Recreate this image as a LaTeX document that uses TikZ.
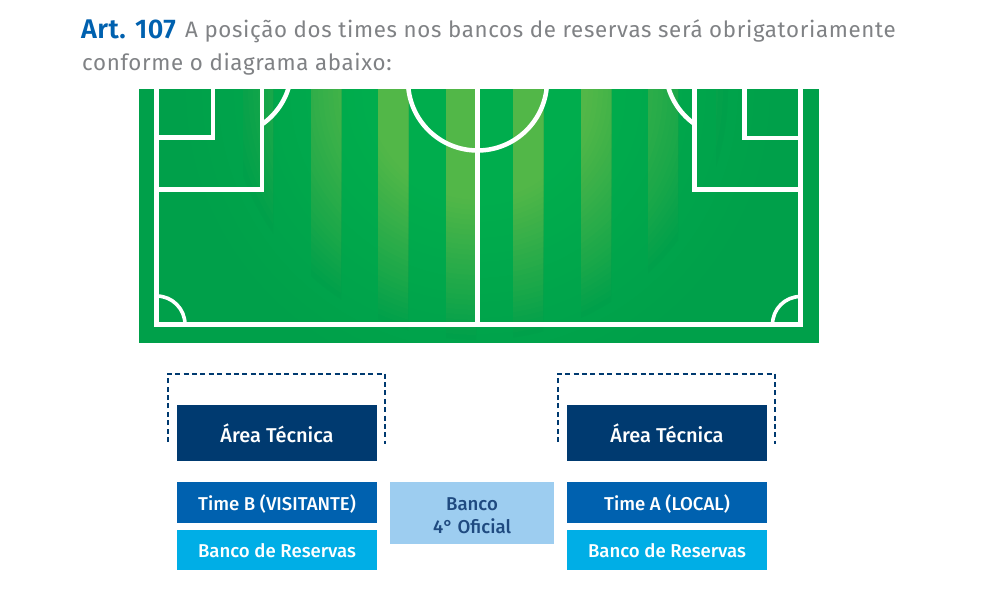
\documentclass[tikz,border=0pt]{standalone}
\usepackage{fontspec}
\setmainfont{Fira Sans}
\newfontfamily\titlefont[LetterSpace=3]{Fira Sans}
\newfontfamily\artfont[LetterSpace=1.5]{Fira Sans SemiBold}
\newfontfamily\boxfont{Fira Sans Medium}
\definecolor{darkblue}{HTML}{003A70}
\definecolor{midblue}{HTML}{0061AF}
\definecolor{cyanblue}{HTML}{00AEE6}
\definecolor{paleblue}{HTML}{9DCDF0}
\definecolor{paletext}{HTML}{1F4A80}
\definecolor{titlegray}{HTML}{808285}
\definecolor{fieldedge}{HTML}{00A04A}
\definecolor{fieldmid}{HTML}{00AE4D}
\definecolor{stripelight}{HTML}{52B748}
\tikzset{
  boxnode/.style={inner sep=0pt,text centered,font=\boxfont\fontsize{18.6}{23}\selectfont,text=white},
  pitchline/.style={draw=white,line width=4.5pt},
  cornerline/.style={draw=white,line width=3.6pt},
  dashline/.style={draw=darkblue,line width=2pt,dash pattern=on 5pt off 3.4pt},
  titletext/.style={anchor=base west,inner sep=0pt,text=titlegray,font=\titlefont\fontsize{22.3}{25}\selectfont}
}
\begin{document}
\begin{tikzpicture}[x=1pt,y=-1pt]
\useasboundingbox (0,0) rectangle (984,599);
\fill[white] (0,0) rectangle (984,599);
% field with soft glow
\fill[fieldedge] (130,80) rectangle (830,350);
\begin{scope}
  \clip (130,80) rectangle (830,350);
  \foreach \i in {0,...,24}{
    \pgfmathsetmacro{\r}{300-\i*8}
    \pgfmathsetmacro{\m}{\i*4}
    \fill[fieldmid!\m!fieldedge] (478,90) circle[radius=\r];
  }
\end{scope}
% light stripes fading away from the centre
\begin{scope}
  \clip (243,80) rectangle (273,350) (311,80) rectangle (341,350)
        (378,80) rectangle (408,350) (446,80) rectangle (476,350)
        (513,80) rectangle (543,350) (581,80) rectangle (611,350)
        (648,80) rectangle (678,350) (716,80) rectangle (745,350);
  \foreach \i in {0,...,30}{
    \pgfmathsetmacro{\r}{250-\i*5}
    \pgfmathsetmacro{\m}{min(100,\i*3.6)}
    \fill[stripelight!\m!fieldedge] (478,90) circle[radius=\r];
  }
\end{scope}
% pitch markings
\begin{scope}
  \draw[pitchline] (156.5,80) -- (156.5,324.5) -- (800.5,324.5) -- (800.5,80);
  \draw[pitchline] (477.5,80) -- (477.5,324.5);
  \draw[pitchline] (477.5,81) circle[radius=69.5];
  \draw[pitchline] (156.5,189.5) -- (262,189.5) -- (262,80);
  \draw[pitchline] (156.5,137.5) -- (213,137.5) -- (213,80);
  \draw[pitchline] (800.5,189.5) -- (694.5,189.5) -- (694.5,80);
  \draw[pitchline] (800.5,138) -- (744.5,138) -- (744.5,80);
  \begin{scope}
    \clip (262,80) rectangle (300,140);
    \draw[pitchline] (223,68) circle[radius=68.5];
  \end{scope}
  \begin{scope}
    \clip (660,80) rectangle (694.5,140);
    \draw[pitchline] (734,68) circle[radius=68.5];
  \end{scope}
  \begin{scope}
    \clip (156.5,290) rectangle (190,324.5);
    \draw[cornerline] (156.5,324.5) circle[radius=28.5];
  \end{scope}
  \begin{scope}
    \clip (765,290) rectangle (800.5,324.5);
    \draw[cornerline] (800.5,324.5) circle[radius=28];
  \end{scope}
\end{scope}
% white frame trimming the field to its edge
\fill[white] (100,0) rectangle (884,89);
\fill[white] (100,343) rectangle (884,360);
\fill[white] (100,80) rectangle (139,360);
\fill[white] (819,80) rectangle (884,360);
% title
\node[anchor=base west,inner sep=0pt,text=midblue,font=\artfont\fontsize{27}{28}\selectfont] (art) at (81,39) {Art. 107};
\node[titletext] (t1) at (185,38) {A posição dos times nos bancos de reservas será obrigatoriamente};
\node[titletext] (t2) at (82,71) {conforme o diagrama abaixo:};
% boxes
\node[boxnode,fill=darkblue,minimum width=200pt,minimum height=56pt,font=\boxfont\fontsize{20}{23}\selectfont] (areaB) at (277,433) {Área Técnica};
\node[boxnode,fill=darkblue,minimum width=200pt,minimum height=56pt,font=\boxfont\fontsize{20}{23}\selectfont] (areaA) at (667,433) {Área Técnica};
\node[boxnode,fill=midblue,minimum width=200pt,minimum height=41pt] (timeB) at (277,502.5) {\rule{0pt}{18pt}Time B (VISITANTE)};
\node[boxnode,fill=midblue,minimum width=200pt,minimum height=41pt] (timeA) at (667,502.5) {\rule{0pt}{18pt}Time A (LOCAL)};
\node[boxnode,fill=cyanblue,minimum width=200pt,minimum height=40pt] (resB) at (277,549.5) {\rule{0pt}{17pt}Banco de Reservas};
\node[boxnode,fill=cyanblue,minimum width=200pt,minimum height=40pt] (resA) at (667,549.5) {\rule{0pt}{17pt}Banco de Reservas};
\node[boxnode,fill=paleblue,text=paletext,minimum width=164pt,minimum height=62pt,align=center] (quarto) at (472,513) {\rule{0pt}{18pt}Banco\\4° Oficial};
% dashed technical area brackets
\coordinate (b1) at (168,442); \coordinate (b2) at (168,373.5); \coordinate (b3) at (385,373.5); \coordinate (b4) at (385,444);
\coordinate (a1) at (558,442); \coordinate (a2) at (558,373.5); \coordinate (a3) at (775,373.5); \coordinate (a4) at (775,444);
\draw[dashline] (b1) -- (b2) -- (b3) -- (b4);
\draw[dashline] (a1) -- (a2) -- (a3) -- (a4);
\end{tikzpicture}
\end{document}
